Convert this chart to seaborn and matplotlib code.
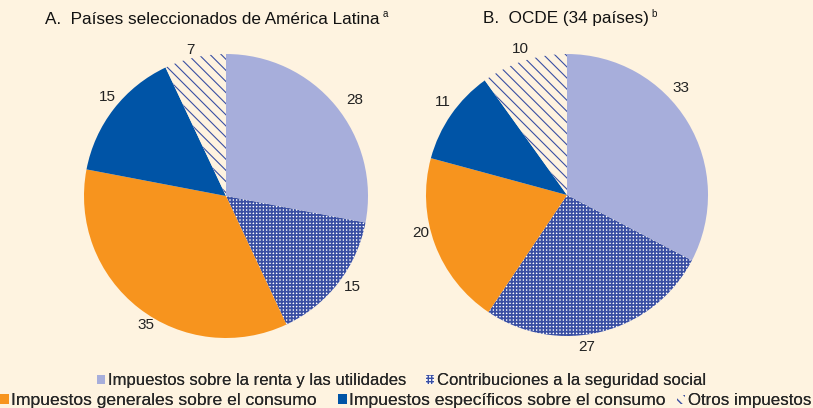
import numpy as np
import matplotlib
matplotlib.use("Agg")
import matplotlib.pyplot as plt
import seaborn as sns
from matplotlib.patches import Patch

sns.set_theme(style="white")
plt.rcParams['font.family'] = ['Liberation Sans', 'DejaVu Sans']
plt.rcParams['hatch.linewidth'] = 1.0

categories = ["Impuestos sobre la renta y las utilidades",
              "Contribuciones a la seguridad social",
              "Impuestos generales sobre el consumo",
              "Impuestos específicos sobre el consumo",
              "Otros impuestos"]
latam_values = [28, 15, 35, 15, 7]
ocde_values = [33, 27, 20, 11, 10]
title_a = "A.  Países seleccionados de América Latina"
title_b = "B.  OCDE (34 países)"
note_a = "a"
note_b = "b"

# label placement tweaks (degrees of rotation, radial distance)
latam_label_shift = [-3, 2, 6, -2, 1]
latam_label_dist = [1.13, 1.10, 1.07, 1.09, 1.06]
ocde_label_shift = [12, -7, -6, -2, 0]
ocde_label_dist = [1.11, 1.09, 1.07, 1.10, 1.09]

BG = "#FEF3E0"
HATCH_BLUE = "#3A4FA3"
faces = ["#A7AEDB", "white", "#F7941E", "#0054A6", BG]
edges = ["#A7AEDB", HATCH_BLUE, "#F7941E", "#0054A6", HATCH_BLUE]
hatches = [None, "+++++", None, None, "\\\\\\"]
hatch_lw = [None, 1.3, None, None, 0.8]

W, H = 813, 408
fig = plt.figure(figsize=(W / 100, H / 100), dpi=100, facecolor=BG)


def style_patch(p, fc, ec, h, lw):
    p.set_facecolor(fc)
    p.set_edgecolor(ec)
    p.set_linewidth(0)
    if h:
        p.set_hatch(h)
        if hasattr(p, "set_hatch_linewidth"):
            p.set_hatch_linewidth(lw)


def make_pie(cx, cy, r, values, shifts, dists):
    ax = fig.add_axes([(cx - r) / W, (H - cy - r) / H, 2 * r / W, 2 * r / H])
    ax.set_facecolor(BG)
    wedges, _ = ax.pie(values, startangle=90, counterclock=False, radius=1,
                       wedgeprops=dict(linewidth=0))
    for w, fc, ec, h, lw in zip(wedges, faces, edges, hatches, hatch_lw):
        style_patch(w, fc, ec, h, lw)
    for w, v, s, d in zip(wedges, values, shifts, dists):
        ang = np.deg2rad((w.theta1 + w.theta2) / 2 + s)
        ax.text(d * np.cos(ang), d * np.sin(ang), str(v), ha="center", va="center",
                fontsize=11, color="#222222", clip_on=False)
    ax.set_xlim(-1, 1)
    ax.set_ylim(-1, 1)
    ax.set_aspect("equal")
    ax.axis("off")
    return ax


make_pie(226, 196, 142, latam_values, latam_label_shift, latam_label_dist)
make_pie(567, 195, 141, ocde_values, ocde_label_shift, ocde_label_dist)

renderer = fig.canvas.get_renderer()
for x0, title, note in [(45, title_a, note_a), (483, title_b, note_b)]:
    t = fig.text(x0 / W, 1 - 19 / H, title, fontsize=12.3, va="center", ha="left", color="#111111")
    bb = t.get_window_extent(renderer)
    fig.text((bb.x1 + 3) / W, 1 - 14 / H, note, fontsize=7, va="center", ha="left", color="#111111")

handles = []
for fc, ec, h, lw in zip(faces, edges, hatches, hatch_lw):
    p = Patch()
    style_patch(p, fc, ec, h, lw)
    handles.append(p)

leg_kw = dict(frameon=False, handlelength=0.5, handleheight=0.5,
              handletextpad=0.15, borderpad=0, borderaxespad=0)
leg1 = fig.legend(handles[:2], categories[:2], loc="center left", ncol=2, fontsize=12,
                  columnspacing=1.2, bbox_to_anchor=(97 / W, 1 - 381 / H), **leg_kw)
fig.add_artist(leg1)
for i, x0, fs in zip([2, 3, 4], [0, 338, 677], [12.6, 12.6, 12.2]):
    lg = fig.legend([handles[i]], [categories[i]], loc="center left", fontsize=fs,
                    bbox_to_anchor=(x0 / W, 1 - 401 / H), **leg_kw)
    fig.add_artist(lg)

fig.savefig("out.png", dpi=100, facecolor=BG)
